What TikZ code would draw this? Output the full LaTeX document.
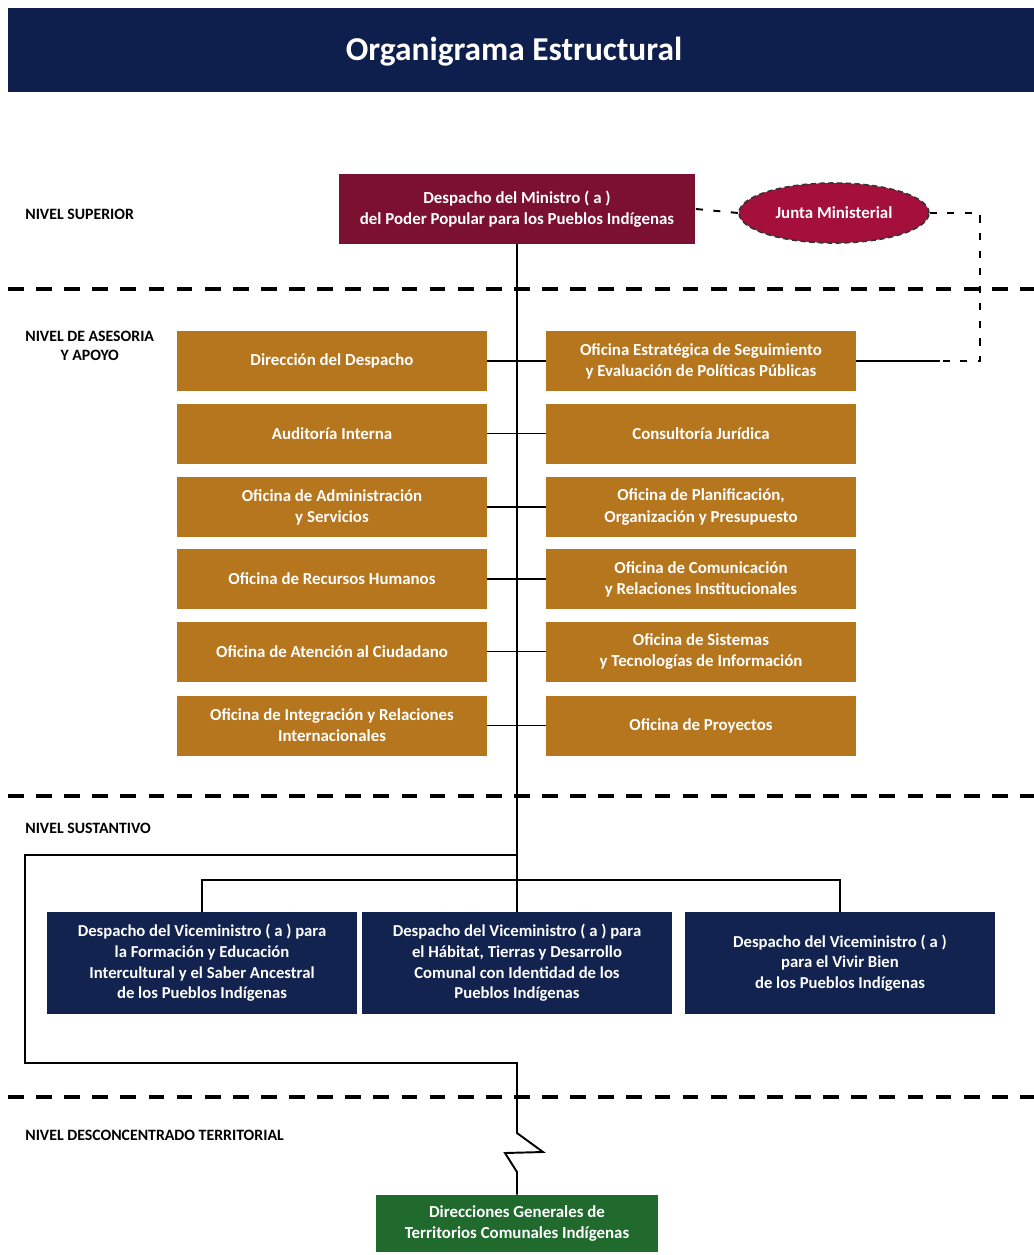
\documentclass[tikz,border=0pt]{standalone}
\usepackage{fontspec}
\setmainfont{Carlito}
\usetikzlibrary{shapes.geometric}
\definecolor{titulo}{HTML}{0E1F4D}
\definecolor{ministro}{HTML}{7B1030}
\definecolor{junta}{HTML}{A50F3C}
\definecolor{apoyo}{HTML}{B5761E}
\definecolor{vice}{HTML}{13234F}
\definecolor{territorio}{HTML}{1F6A2C}

\begin{document}
\begin{tikzpicture}
  [x=0.02cm,y=-0.02cm,
   caja/.style={rectangle,text=white,align=center,inner sep=2pt,
     font=\bfseries\fontsize{9.6}{12}\selectfont},
   asesor/.style={caja,fill=apoyo,minimum width=6.2cm,minimum height=1.2cm},
   vicebox/.style={caja,fill=vice,minimum width=6.2cm,minimum height=2.04cm,
     font=\bfseries\fontsize{9.5}{11.8}\selectfont},
   etiqueta/.style={anchor=west,align=center,inner sep=0pt,
     font=\bfseries\fontsize{9}{10.5}\selectfont},
   nivel/.style={line width=1.8pt,dash pattern=on 9pt off 7pt},
   punteado/.style={line width=1.1pt,dash pattern=on 4pt off 6pt},
   linea/.style={line width=1.1pt}]
  \useasboundingbox (0,0) rectangle (1034,1255);
  \fill[titulo] (8,8) rectangle (1034,92);
  \node[text=white,font=\bfseries\fontsize{19}{22}\selectfont] (tit) at (514,52) {Organigrama Estructural};

  \node[etiqueta] (ns) at (25,214) {NIVEL SUPERIOR};
  \node[etiqueta] (na) at (25,346) {NIVEL DE ASESORIA\\Y APOYO};
  \node[etiqueta] (nt) at (25,828) {NIVEL SUSTANTIVO};
  \node[etiqueta] (nd) at (25,1135) {NIVEL DESCONCENTRADO TERRITORIAL};

  \foreach \y in {289,796,1097}
    \draw[nivel] (8,\y) -- (1034,\y);

  \node[caja,fill=ministro,minimum width=7.14cm,minimum height=1.4cm] (min) at (517,209)
    {Despacho del Ministro ( a )\\del Poder Popular para los Pueblos Indígenas};
  \node[caja,ellipse,fill=junta,draw=black!80,densely dashed,line width=0.9pt,
    minimum width=3.8cm,minimum height=1.2cm] (jun) at (834,213) {Junta Ministerial};

  \node[asesor] (a1) at (332,361) {Dirección del Despacho};
  \node[asesor] (a2) at (332,433.5) {Auditoría Interna};
  \node[asesor] (a3) at (332,507) {Oficina de Administración\\y Servicios};
  \node[asesor] (a4) at (332,579) {Oficina de Recursos Humanos};
  \node[asesor] (a5) at (332,651.5) {Oficina de Atención al Ciudadano};
  \node[asesor] (a6) at (332,725.5) {Oficina de Integración y Relaciones\\Internacionales};
  \node[asesor] (b1) at (701,361) {Oficina Estratégica de Seguimiento\\y Evaluación de Políticas Públicas};
  \node[asesor] (b2) at (701,433.5) {Consultoría Jurídica};
  \node[asesor] (b3) at (701,507) {Oficina de Planificación,\\Organización y Presupuesto};
  \node[asesor] (b4) at (701,579) {Oficina de Comunicación\\y Relaciones Institucionales};
  \node[asesor] (b5) at (701,651.5) {Oficina de Sistemas\\y Tecnologías de Información};
  \node[asesor] (b6) at (701,725.5) {Oficina de Proyectos};

  \node[vicebox] (v1) at (202,963) {Despacho del Viceministro ( a ) para\\la Formación y Educación\\Intercultural y el Saber Ancestral\\de los Pueblos Indígenas};
  \node[vicebox] (v2) at (517,963) {Despacho del Viceministro ( a ) para\\el Hábitat, Tierras y Desarrollo\\Comunal con Identidad de los\\Pueblos Indígenas};
  \node[vicebox] (v3) at (840,963) {Despacho del Viceministro ( a )\\para el Vivir Bien\\de los Pueblos Indígenas};

  \node[caja,fill=territorio,minimum width=5.66cm,minimum height=1.14cm] (dir) at (517,1223.5)
    {Direcciones Generales de\\Territorios Comunales Indígenas};

  \coordinate (bifur) at (517,855);
  \coordinate (reparto) at (517,880);
  \coordinate (codo1) at (25,855);
  \coordinate (codo2) at (25,1063);
  \coordinate (codo3) at (517,1063);
  \coordinate (zig1) at (517,1133);
  \coordinate (zig2) at (543,1152);
  \coordinate (zig3) at (505,1153);
  \coordinate (zig4) at (517,1172);
  \coordinate (esq1) at (980,213);
  \coordinate (esq2) at (980,361);
  \coordinate (corte) at (940,361);

  \draw[linea] (min.south) -- (v2.north);
  \foreach \i in {1,...,6}
    \draw[linea] (a\i.east) -- (b\i.west);
  \draw[linea] (v1.north) |- (reparto) -| (v3.north);
  \draw[linea] (bifur) -- (codo1) -- (codo2) -- (codo3) -- (zig1) -- (zig2) -- (zig3) -- (zig4) -- (dir.north);

  \draw[punteado] (min.east) -- (jun.west);
  \draw[punteado] (jun.east) -- (esq1) -- (esq2) -- (corte);
  \draw[linea] (b1.east) -- (corte);
\end{tikzpicture}
\end{document}
